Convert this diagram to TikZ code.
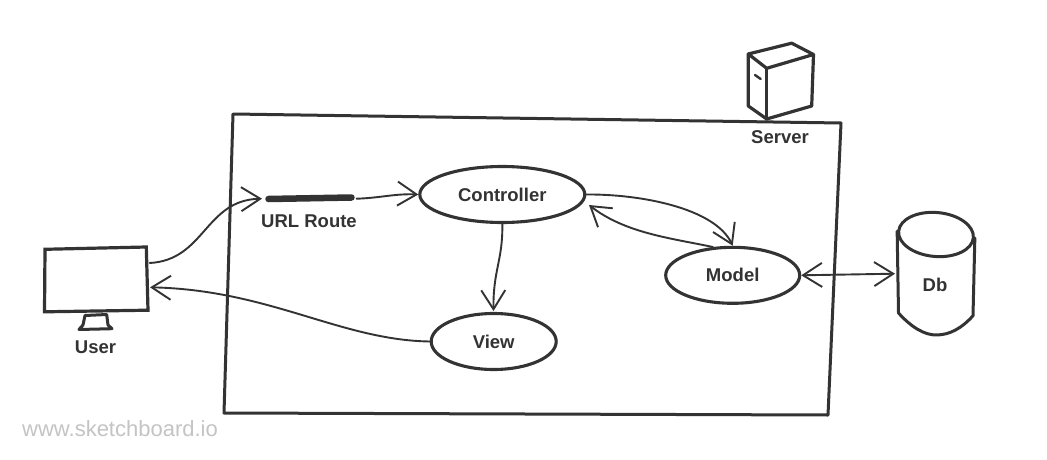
\documentclass[tikz,border=0pt]{standalone}
\usepackage{fontspec}
\setmainfont{Liberation Sans}
\usetikzlibrary{arrows.meta,shapes.geometric}
\definecolor{ink}{HTML}{333333}
\definecolor{mark}{HTML}{C4C4C4}
\tikzset{
  sketch/.style={draw=ink,line width=3pt,line join=round,line cap=round},
  oval/.style={ellipse,draw=ink,line width=3.1pt,fill=white,inner sep=0pt,font=\fontsize{18.5}{20}\selectfont\bfseries,text=ink},
  caption/.style={inner sep=0pt,font=\fontsize{18.5}{20}\selectfont\bfseries,text=ink},
  link/.style={draw=ink,line width=1.9pt,line cap=round,-{Straight Barb[length=19pt,width=24pt,line width=1.9pt]}},
  linkboth/.style={link,{Straight Barb[length=19pt,width=24pt,line width=1.9pt]}-{Straight Barb[length=19pt,width=24pt,line width=1.9pt]}}
}
\begin{document}
\begin{tikzpicture}[x=1pt,y=-1pt]
\useasboundingbox[fill=white] (0,0) rectangle (1047,460);
% server frame
\draw[sketch] (233,114) -- (841,123) -- (828,415) -- (224,413) -- cycle;
% server box
\draw[sketch,line width=3.2pt] (748.3,54) -- (791.7,43.2) -- (813.5,54.5) -- (766.7,68.3) -- cycle;
\draw[sketch,line width=3.2pt] (748.3,54) -- (748.3,106) -- (766.7,119) -- (811.7,106) -- (813.5,54.5);
\draw[sketch,line width=3.2pt] (766.7,68.3) -- (766.7,119);
\draw[sketch,line width=2.4pt] (755,75) -- (760.7,79);
\node[caption] (server) at (780,137.5) {Server};
% user monitor
\draw[sketch,line width=3.2pt,line join=miter] (45,249.3) -- (146.3,247) -- (148,310.2) -- (44.5,311.8) -- cycle;
\draw[sketch,line width=3pt] (85,315.5) -- (106.7,314.5) -- (108,325) -- (112,328.7) -- (79,329.5) -- (83,325) -- cycle;
\node[caption] (user) at (95.5,347.5) {User};
\coordinate (userout) at (149.7,263);
\coordinate (userin) at (150,287.3);
% route
\coordinate (routeA) at (268.5,199);
\coordinate (routeB) at (351.5,197.5);
\draw[draw=ink,line width=6.5pt,line cap=round] (routeA) -- (routeB);
\coordinate (routein) at (262,198.7);
\coordinate (routeout) at (356.5,198.7);
\node[caption] (route) at (309,221.5) {URL Route};
% nodes
\node[oval,minimum width=165pt,minimum height=56pt] (controller) at (502.3,194.5) {Controller};
\node[oval,minimum width=125pt,minimum height=56pt] (view) at (493.7,341.5) {View};
\node[oval,minimum width=134pt,minimum height=56pt] (model) at (732.7,275.3) {Model};
% database
\node[ellipse,draw=ink,line width=3pt,inner sep=0pt,minimum width=75pt,minimum height=44pt,rotate=-5] (dbtop) at (936,234.5) {};
\draw[sketch] (dbtop.west) -- (898.5,313) .. controls (912,328) and (925,335) .. (936,335) .. controls (950,335) and (962,328) .. (973,315.7) -- (dbtop.east);
\node[caption] (db) at (935,285) {Db};
\coordinate (dbin) at (895,273.7);
% connectors
\draw[link] (userout) .. controls (205,260) and (205,200) .. (routein);
\draw[link] (routeout) .. controls (380,198) and (395,193.5) .. (controller.west);
\draw[link] (controller.south) .. controls (503,260) and (493,270) .. (493.5,311);
\draw[link] (controller.east) .. controls (640,194) and (715,208) .. (model.north);
\draw[link] (model.125) .. controls (670,238) and (625,233) .. (589,205);
\draw[link] (view.west) .. controls (340,340) and (270,290) .. (userin);
\draw[linkboth] (model.east) -- (dbin);
% watermark
\node[anchor=west,inner sep=0pt,text=mark,font=\fontsize{22}{24}\selectfont] (wm) at (22,429) {www.sketchboard.io};
\end{tikzpicture}
\end{document}
